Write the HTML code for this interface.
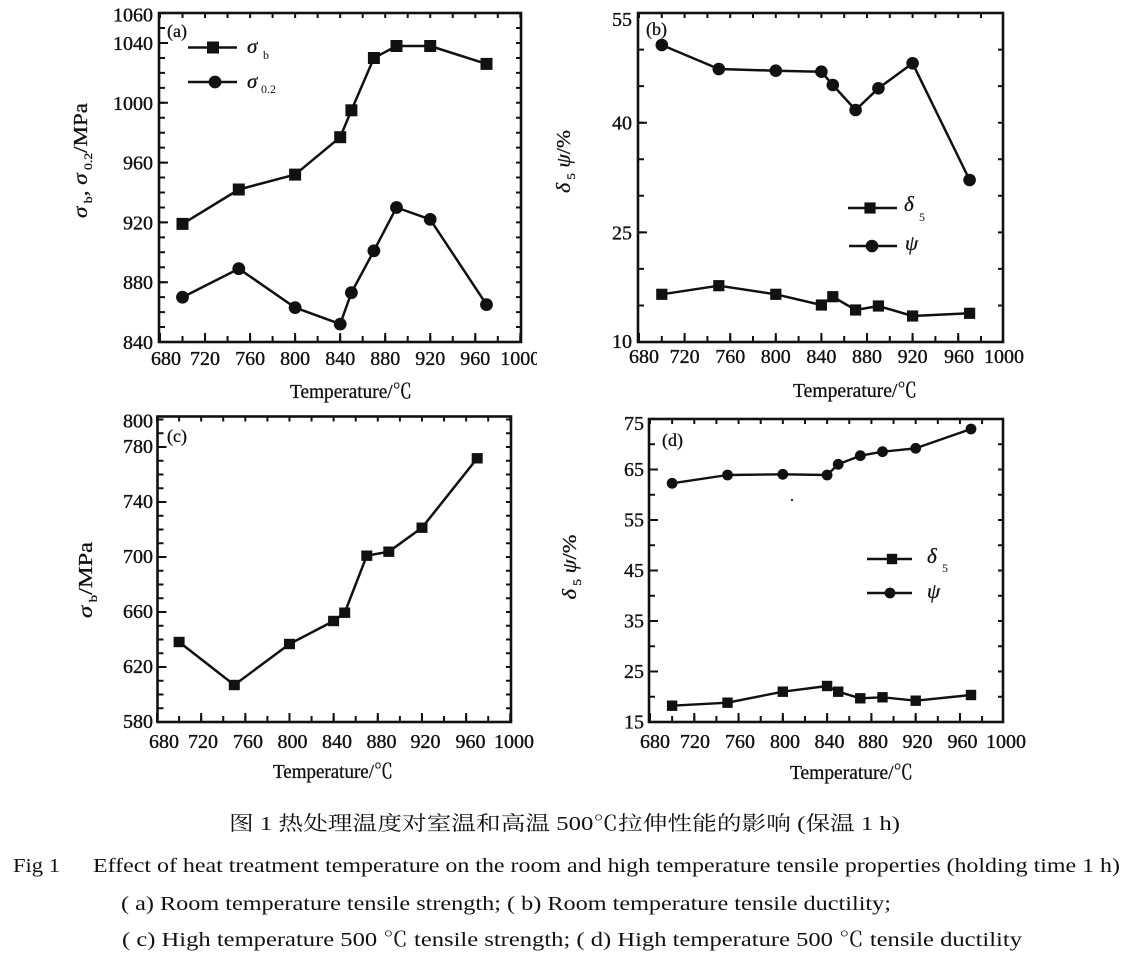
<!DOCTYPE html>
<html>
<head>
<meta charset="utf-8">
<style>
html,body{margin:0;padding:0;background:#fff;}
svg{display:block;}
text{font-family:"Liberation Serif","Noto Serif CJK SC",serif;fill:#111;}
.tk{font-size:20px;stroke:#111;stroke-width:0.35px;}
.lab{font-size:18px;stroke:#111;stroke-width:0.3px;}
.ttl{font-size:20px;stroke:#111;stroke-width:0.3px;}
.lg{stroke:#111;stroke-width:0.3px;}
.cap{font-size:20px;}
</style>
</head>
<body>
<svg width="1129" height="967" viewBox="0 0 1129 967" xmlns="http://www.w3.org/2000/svg">
<defs>
  <rect id="sqA" x="-6" y="-6" width="12" height="12" fill="#111"/>
  <circle id="ciA" r="6.4" fill="#111"/>
  <rect id="sqB" x="-5.6" y="-5.6" width="11.2" height="11.2" fill="#111"/>
  <circle id="ciB" r="6.3" fill="#111"/>
  <rect id="sqC" x="-5.5" y="-5.2" width="11" height="10.4" fill="#111"/>
  <rect id="sqD" x="-5.2" y="-5.2" width="10.4" height="10.4" fill="#111"/>
  <circle id="ciD" r="5.4" fill="#111"/>
  <clipPath id="clipA"><rect x="0" y="0" width="537" height="410"/></clipPath>
</defs>
<rect x="0" y="0" width="1129" height="967" fill="#fff"/>

<!-- ================= Panel (a) ================= -->
<g stroke="#111" fill="none">
  <rect x="159" y="13" width="362" height="329" stroke-width="2.6"/>
  <line x1="162" y1="343" x2="162" y2="12" stroke-width="6" stroke-dasharray="2 12.95"/>
  <line x1="163.5" y1="343" x2="163.5" y2="12" stroke-width="9" stroke-dasharray="2 57.8"/>
  <line x1="518.5" y1="343" x2="518.5" y2="12" stroke-width="5" stroke-dasharray="2 12.95"/>
  <line x1="159" y1="339" x2="522" y2="339" stroke-width="6" stroke-dasharray="2 20.52"/>
  <line x1="159" y1="337.5" x2="522" y2="337.5" stroke-width="9" stroke-dasharray="2 43.04"/>
  <line x1="159" y1="15.5" x2="522" y2="15.5" stroke-width="5" stroke-dasharray="2 20.52"/>
</g>
<g class="tk" text-anchor="end">
  <text x="153" y="349">840</text>
  <text x="153" y="289.2">880</text>
  <text x="153" y="229.4">920</text>
  <text x="153" y="169.6">960</text>
  <text x="153" y="109.8">1000</text>
  <text x="153" y="50">1040</text>
  <text x="153" y="21.5">1060</text>
</g>
<g class="tk" text-anchor="middle" clip-path="url(#clipA)">
  <text x="166" y="365">680</text>
  <text x="205" y="365">720</text>
  <text x="250.1" y="365">760</text>
  <text x="295.1" y="365">800</text>
  <text x="340.2" y="365">840</text>
  <text x="385.2" y="365">880</text>
  <text x="430.2" y="365">920</text>
  <text x="475.3" y="365">960</text>
  <text x="520.3" y="365">1000</text>
</g>
<text class="ttl" x="351" y="398" text-anchor="middle" textLength="122" lengthAdjust="spacingAndGlyphs">Temperature/℃</text>
<text class="ttl" transform="translate(87,160.5) rotate(-90)" text-anchor="middle" textLength="115" lengthAdjust="spacingAndGlyphs"><tspan font-style="italic">σ</tspan><tspan font-size="12" dy="5"> b</tspan><tspan dy="-5">,  </tspan><tspan font-style="italic">σ</tspan><tspan font-size="12" dy="5"> 0.2</tspan><tspan dy="-5">/MPa</tspan></text>
<text class="lab" x="167" y="37">(a)</text>
<g stroke="#111" stroke-width="2.4">
  <line x1="188" y1="47.5" x2="237" y2="47.5"/>
  <line x1="188" y1="82" x2="237" y2="82"/>
</g>
<use href="#sqA" x="213" y="47.5"/>
<use href="#ciA" x="215" y="82"/>
<text class="lg" x="247" y="53" font-size="21" font-style="italic">σ</text>
<text x="263" y="59" font-size="12">b</text>
<text class="lg" x="247" y="88" font-size="21" font-style="italic">σ</text>
<text x="261" y="93" font-size="12">0.2</text>
<g fill="none" stroke="#111" stroke-width="2.5" stroke-linejoin="round">
  <polyline points="182.5,223.9 238.8,189.5 295.1,174.6 340.2,137.2 351.4,110.3 373.9,58 396.5,46 430.2,46 486.5,63.9"/>
  <polyline points="182.5,297.2 238.8,268.7 295.1,307.6 340.2,324.1 351.4,292.7 373.9,250.8 396.5,207.5 430.2,219.4 486.5,304.6"/>
</g>
<use href="#sqA" x="182.5" y="223.9"/><use href="#sqA" x="238.8" y="189.5"/><use href="#sqA" x="295.1" y="174.6"/>
<use href="#sqA" x="340.2" y="137.2"/><use href="#sqA" x="351.4" y="110.3"/><use href="#sqA" x="373.9" y="58"/>
<use href="#sqA" x="396.5" y="46"/><use href="#sqA" x="430.2" y="46"/><use href="#sqA" x="486.5" y="63.9"/>
<use href="#ciA" x="182.5" y="297.2"/><use href="#ciA" x="238.8" y="268.7"/><use href="#ciA" x="295.1" y="307.6"/>
<use href="#ciA" x="340.2" y="324.1"/><use href="#ciA" x="351.4" y="292.7"/><use href="#ciA" x="373.9" y="250.8"/>
<use href="#ciA" x="396.5" y="207.5"/><use href="#ciA" x="430.2" y="219.4"/><use href="#ciA" x="486.5" y="304.6"/>

<!-- ================= Panel (b) ================= -->
<g stroke="#111" fill="none">
  <rect x="638" y="13" width="365" height="329" stroke-width="2.6"/>
  <line x1="641" y1="343" x2="641" y2="12" stroke-width="6" stroke-dasharray="2 34.55"/>
  <line x1="642.5" y1="343" x2="642.5" y2="12" stroke-width="9" stroke-dasharray="2 107.65"/>
  <line x1="1000.5" y1="343" x2="1000.5" y2="12" stroke-width="5" stroke-dasharray="2 34.55"/>
  <line x1="638" y1="339" x2="1004" y2="339" stroke-width="6" stroke-dasharray="2 20.8"/>
  <line x1="638" y1="337.5" x2="1004" y2="337.5" stroke-width="9" stroke-dasharray="2 43.6"/>
  <line x1="638" y1="15.5" x2="1004" y2="15.5" stroke-width="5" stroke-dasharray="2 20.8"/>
</g>
<g class="tk" text-anchor="end">
  <text x="632" y="26">55</text>
  <text x="632" y="129.6">40</text>
  <text x="632" y="239.3">25</text>
  <text x="632" y="348">10</text>
</g>
<g class="tk" text-anchor="middle">
  <text x="644" y="363">680</text>
  <text x="684.6" y="363">720</text>
  <text x="730.2" y="363">760</text>
  <text x="775.8" y="363">800</text>
  <text x="821.4" y="363">840</text>
  <text x="867" y="363">880</text>
  <text x="912.6" y="363">920</text>
  <text x="959" y="363">960</text>
  <text x="1004" y="363">1000</text>
</g>
<text class="ttl" x="855" y="397" text-anchor="middle" textLength="124" lengthAdjust="spacingAndGlyphs">Temperature/℃</text>
<text class="ttl" transform="translate(570,161.5) rotate(-90)" text-anchor="middle" textLength="63" lengthAdjust="spacingAndGlyphs"><tspan font-style="italic">δ</tspan><tspan font-size="12" dy="5"> 5</tspan><tspan dy="-5"> </tspan><tspan font-style="italic">ψ</tspan><tspan>/%</tspan></text>
<text class="lab" x="646" y="35">(b)</text>
<g stroke="#111" stroke-width="2.4">
  <line x1="848" y1="208" x2="897" y2="208"/>
  <line x1="849" y1="246" x2="897" y2="246"/>
</g>
<use href="#sqB" x="870" y="208"/>
<use href="#ciB" x="872" y="246"/>
<text class="lg" x="904" y="211" font-size="21" font-style="italic">δ</text>
<text x="919" y="221" font-size="12">5</text>
<text class="lg" x="905" y="250" font-size="21" font-style="italic">ψ</text>
<g fill="none" stroke="#111" stroke-width="2.5" stroke-linejoin="round">
  <polyline points="661.8,45 718.8,69 775.8,70.7 821.4,71.7 832.8,85 855.6,110 878.4,88.3 912.6,63.3 969.6,180"/>
  <polyline points="661.8,294.3 718.8,285.7 775.8,294.3 821.4,305 832.8,296.7 855.6,310 878.4,306 912.6,316 969.6,313.3"/>
</g>
<use href="#ciB" x="661.8" y="45"/><use href="#ciB" x="718.8" y="69"/><use href="#ciB" x="775.8" y="70.7"/>
<use href="#ciB" x="821.4" y="71.7"/><use href="#ciB" x="832.8" y="85"/><use href="#ciB" x="855.6" y="110"/>
<use href="#ciB" x="878.4" y="88.3"/><use href="#ciB" x="912.6" y="63.3"/><use href="#ciB" x="969.6" y="180"/>
<use href="#sqB" x="661.8" y="294.3"/><use href="#sqB" x="718.8" y="285.7"/><use href="#sqB" x="775.8" y="294.3"/>
<use href="#sqB" x="821.4" y="305"/><use href="#sqB" x="832.8" y="296.7"/><use href="#sqB" x="855.6" y="310"/>
<use href="#sqB" x="878.4" y="306"/><use href="#sqB" x="912.6" y="316"/><use href="#sqB" x="969.6" y="313.3"/>

<!-- ================= Panel (c) ================= -->
<g stroke="#111" fill="none">
  <rect x="157.5" y="416.5" width="353.5" height="305.5" stroke-width="2.6"/>
  <line x1="160.5" y1="723" x2="160.5" y2="415" stroke-width="6" stroke-dasharray="2 11.75"/>
  <line x1="162" y1="723" x2="162" y2="415" stroke-width="9" stroke-dasharray="2 53"/>
  <line x1="508.5" y1="723" x2="508.5" y2="415" stroke-width="5" stroke-dasharray="2 11.75"/>
  <line x1="156" y1="719" x2="512" y2="719" stroke-width="6" stroke-dasharray="2 20.08"/>
  <line x1="156" y1="717.5" x2="512" y2="717.5" stroke-width="9" stroke-dasharray="2 42.16"/>
  <line x1="156" y1="419" x2="512" y2="419" stroke-width="5" stroke-dasharray="2 20.08"/>
</g>
<g class="tk" text-anchor="end">
  <text x="153" y="728">580</text>
  <text x="153" y="673">620</text>
  <text x="153" y="618">660</text>
  <text x="153" y="563">700</text>
  <text x="153" y="508">740</text>
  <text x="153" y="453">780</text>
  <text x="153" y="427.5">800</text>
</g>
<g class="tk" text-anchor="middle">
  <text x="164" y="748">680</text>
  <text x="203" y="748">720</text>
  <text x="248" y="748">760</text>
  <text x="292.5" y="748">800</text>
  <text x="337" y="748">840</text>
  <text x="381.5" y="748">880</text>
  <text x="425.5" y="748">920</text>
  <text x="470.5" y="748">960</text>
  <text x="514" y="748">1000</text>
</g>
<text class="ttl" x="333" y="778" text-anchor="middle" textLength="120" lengthAdjust="spacingAndGlyphs">Temperature/℃</text>
<text class="ttl" transform="translate(92,580) rotate(-90)" text-anchor="middle" textLength="76" lengthAdjust="spacingAndGlyphs"><tspan font-style="italic">σ</tspan><tspan font-size="12" dy="5"> b</tspan><tspan dy="-5">/MPa</tspan></text>
<text class="lab" x="167" y="442">(c)</text>
<polyline fill="none" stroke="#111" stroke-width="2.5" stroke-linejoin="round" points="179.1,642 234.3,685 289.5,644 333.6,621 344.7,612.7 366.8,555.7 388.8,551.7 422,527.7 477.2,458.3"/>
<use href="#sqC" x="179.1" y="642"/><use href="#sqC" x="234.3" y="685"/><use href="#sqC" x="289.5" y="644"/>
<use href="#sqC" x="333.6" y="621"/><use href="#sqC" x="344.7" y="612.7"/><use href="#sqC" x="366.8" y="555.7"/>
<use href="#sqC" x="388.8" y="551.7"/><use href="#sqC" x="422" y="527.7"/><use href="#sqC" x="477.2" y="458.3"/>

<!-- ================= Panel (d) ================= -->
<g stroke="#111" fill="none">
  <rect x="649" y="419" width="354" height="303" stroke-width="2.6"/>
  <line x1="652" y1="723" x2="652" y2="418" stroke-width="6" stroke-dasharray="2 23.25"/>
  <line x1="653.5" y1="723" x2="653.5" y2="418" stroke-width="9" stroke-dasharray="2 48.5"/>
  <line x1="1000.5" y1="723" x2="1000.5" y2="418" stroke-width="5" stroke-dasharray="2 23.25"/>
  <line x1="649" y1="719" x2="1004" y2="719" stroke-width="6" stroke-dasharray="2 20.14"/>
  <line x1="649" y1="717.5" x2="1004" y2="717.5" stroke-width="9" stroke-dasharray="2 42.28"/>
  <line x1="649" y1="421.5" x2="1004" y2="421.5" stroke-width="5" stroke-dasharray="2 20.14"/>
</g>
<g class="tk" text-anchor="end">
  <text x="644" y="728.5">15</text>
  <text x="644" y="678">25</text>
  <text x="644" y="627.5">35</text>
  <text x="644" y="577">45</text>
  <text x="644" y="526.5">55</text>
  <text x="644" y="476">65</text>
  <text x="644" y="430">75</text>
</g>
<g class="tk" text-anchor="middle">
  <text x="655" y="748">680</text>
  <text x="695" y="748">720</text>
  <text x="740" y="748">760</text>
  <text x="785" y="748">800</text>
  <text x="829.5" y="748">840</text>
  <text x="873" y="748">880</text>
  <text x="917.5" y="748">920</text>
  <text x="962.5" y="748">960</text>
  <text x="1006" y="748">1000</text>
</g>
<text class="ttl" x="851.5" y="779" text-anchor="middle" textLength="123" lengthAdjust="spacingAndGlyphs">Temperature/℃</text>
<text class="ttl" transform="translate(576,567) rotate(-90)" text-anchor="middle" textLength="65" lengthAdjust="spacingAndGlyphs"><tspan font-style="italic">δ</tspan><tspan font-size="12" dy="5"> 5</tspan><tspan dy="-5"> </tspan><tspan font-style="italic">ψ</tspan><tspan>/%</tspan></text>
<text class="lab" x="662" y="446">(d)</text>
<g stroke="#111" stroke-width="2.4">
  <line x1="867" y1="559" x2="912" y2="559"/>
  <line x1="867" y1="593" x2="912" y2="593"/>
</g>
<use href="#sqD" x="892" y="559"/>
<use href="#ciD" x="890" y="593"/>
<text class="lg" x="927" y="563" font-size="21" font-style="italic">δ</text>
<text x="942" y="572" font-size="12">5</text>
<text class="lg" x="927" y="598" font-size="21" font-style="italic">ψ</text>
<circle cx="792" cy="500" r="1.2" fill="#333"/>
<g fill="none" stroke="#111" stroke-width="2.4" stroke-linejoin="round">
  <polyline points="672.1,483.3 727.5,475 782.8,474.3 827.1,475 838.2,464.3 860.3,455.7 882.5,451.7 915.7,448.3 971,429"/>
  <polyline points="672.1,705.7 727.5,702.7 782.8,691.7 827.1,686 838.2,691.7 860.3,698.3 882.5,697.3 915.7,700.7 971,695"/>
</g>
<use href="#ciD" x="672.1" y="483.3"/><use href="#ciD" x="727.5" y="475"/><use href="#ciD" x="782.8" y="474.3"/>
<use href="#ciD" x="827.1" y="475"/><use href="#ciD" x="838.2" y="464.3"/><use href="#ciD" x="860.3" y="455.7"/>
<use href="#ciD" x="882.5" y="451.7"/><use href="#ciD" x="915.7" y="448.3"/><use href="#ciD" x="971" y="429"/>
<use href="#sqD" x="672.1" y="705.7"/><use href="#sqD" x="727.5" y="702.7"/><use href="#sqD" x="782.8" y="691.7"/>
<use href="#sqD" x="827.1" y="686"/><use href="#sqD" x="838.2" y="691.7"/><use href="#sqD" x="860.3" y="698.3"/>
<use href="#sqD" x="882.5" y="697.3"/><use href="#sqD" x="915.7" y="700.7"/><use href="#sqD" x="971" y="695"/>

<!-- ================= Caption ================= -->
<text class="cap" x="229" y="830" textLength="671" lengthAdjust="spacingAndGlyphs">图 1  热处理温度对室温和高温 500℃拉伸性能的影响 (保温 1 h)</text>
<text class="cap" x="13" y="872" textLength="47" lengthAdjust="spacingAndGlyphs">Fig 1</text>
<text class="cap" x="93" y="872" textLength="1027" lengthAdjust="spacingAndGlyphs">Effect of heat treatment temperature on the room and high temperature tensile properties (holding time 1 h)</text>
<text class="cap" x="121" y="910" textLength="770" lengthAdjust="spacingAndGlyphs">( a) Room temperature tensile strength; ( b) Room temperature tensile ductility;</text>
<text class="cap" x="122" y="946" textLength="900" lengthAdjust="spacingAndGlyphs">( c) High temperature 500 ℃ tensile strength; ( d) High temperature 500 ℃ tensile ductility</text>
</svg>
</body>
</html>
